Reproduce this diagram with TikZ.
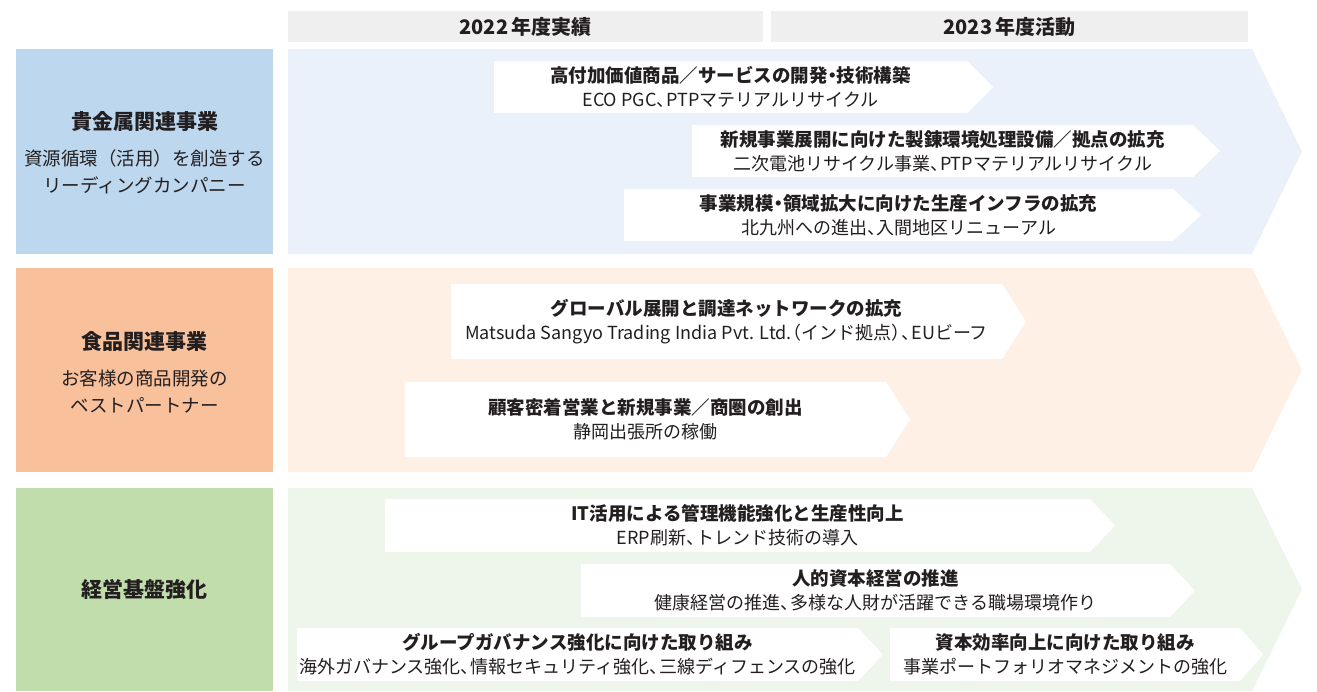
\documentclass[tikz,border=0pt]{standalone}
\usepackage{fontspec}
\setmainfont{Noto Sans CJK JP}
\definecolor{hdrgray}{HTML}{EFEFEF}
\definecolor{catblue}{HTML}{BDD7EE}
\definecolor{catorange}{HTML}{F8C09B}
\definecolor{catgreen}{HTML}{C1DDAB}
\definecolor{bgblue}{HTML}{EAF1FA}
\definecolor{bgorange}{HTML}{FEF0E5}
\definecolor{bggreen}{HTML}{EEF5EA}
\definecolor{ink}{HTML}{231F20}
% tight punctuation
\newcommand\tc{、\kern-0.45em}
\newcommand\nk{\kern-0.25em・\kern-0.25em}
\newcommand\lp{\kern-0.45em（}
\newcommand\rp{）\kern-0.45em}
\newcommand\wbox[8]{%
  \fill[white] (#2,#5) -- (#3,#5) -- (#4,{(#5+#6)/2}) -- (#3,#6) -- (#2,#6) -- cycle;
  \node[boxtext] (#1) at ({(#2+#3)/2},{(#5+#6)/2}) {{\fontsize{18.5}{24}\selectfont\bfseries #7}\\#8};
}
\newcommand\bigchev[3]{% #1 color #2 top #3 bottom
  \fill[#1] (288,#2) -- (1252,#2) -- (1302,{(#2+#3)/2}) -- (1252,#3) -- (288,#3) -- cycle;
}
\begin{document}
\begin{tikzpicture}[x=1pt,y=-1pt,
  every node/.style={text=ink, inner sep=0pt},
  hdr/.style={fill=hdrgray, minimum height=31pt, font=\fontsize{20}{24}\selectfont\bfseries},
  boxtext/.style={align=center, font=\fontsize{18}{24}\selectfont},
  cattitle/.style={font=\fontsize{21}{26}\selectfont\bfseries},
  catsub/.style={align=center, font=\fontsize{18.5}{27}\selectfont}]
\useasboundingbox (0,0) rectangle (1317,691);
% headers
\node[hdr, minimum width=475pt] (h1) at (525.5,26.5) {2022\,年度実績};
\node[hdr, minimum width=477pt] (h2) at (1009.5,26.5) {2023\,年度活動};
% category boxes
\fill[catblue] (16,49) rectangle (273,254);
\fill[catorange] (16,268) rectangle (273,472);
\fill[catgreen] (16,488) rectangle (273,691);
\node[cattitle] (c1t) at (144.5,122) {貴金属関連事業};
\node[catsub] (c1s) at (144.5,171.5) {資源循環（活用）を創造する\\リーディングカンパニー};
\node[cattitle] (c2t) at (144.5,342) {食品関連事業};
\node[catsub] (c2s) at (144.5,392) {お客様の商品開発の\\ベストパートナー};
\node[cattitle] (c3t) at (144.5,589) {経営基盤強化};
% big chevrons
\bigchev{bgblue}{49}{254}
\bigchev{bgorange}{268}{472}
\bigchev{bggreen}{488}{691}
% row 1
\wbox{a1}{494}{967}{993}{61}{113}{高付加価値商品／サービスの開発\nk 技術構築}{ECO PGC\tc PTPマテリアルリサイクル}
\wbox{a2}{692}{1193}{1220}{125}{177}{新規事業展開に向けた製錬環境処理設備／拠点の拡充}{二次電池リサイクル事業\tc PTPマテリアルリサイクル}
\wbox{a3}{624}{1173}{1201}{189}{241}{事業規模\nk 領域拡大に向けた生産インフラの拡充}{北九州への進出\tc 入間地区リニューアル}
% row 2
\wbox{b1}{451}{1002}{1026}{284}{359}{グローバル展開と調達ネットワークの拡充}{Matsuda Sangyo Trading India Pvt. Ltd.\lp インド拠点\rp\tc EUビーフ}
\wbox{b2}{405}{886}{910}{382}{457}{顧客密着営業と新規事業／商圏の創出}{静岡出張所の稼働}
% row 3
\wbox{g1}{385}{1090}{1115}{499}{552}{IT活用による管理機能強化と生産性向上}{ERP刷新\tc トレンド技術の導入}
\wbox{g2}{581}{1170}{1195}{564}{617}{人的資本経営の推進}{健康経営の推進\tc 多様な人財が活躍できる職場環境作り}
\wbox{g3}{297}{858}{883}{628}{681}{グループガバナンス強化に向けた取り組み}{海外ガバナンス強化\tc 情報セキュリティ強化\tc 三線ディフェンスの強化}
\wbox{g4}{890}{1240}{1263}{628}{681}{資本効率向上に向けた取り組み}{事業ポートフォリオマネジメントの強化}
\end{tikzpicture}
\end{document}
